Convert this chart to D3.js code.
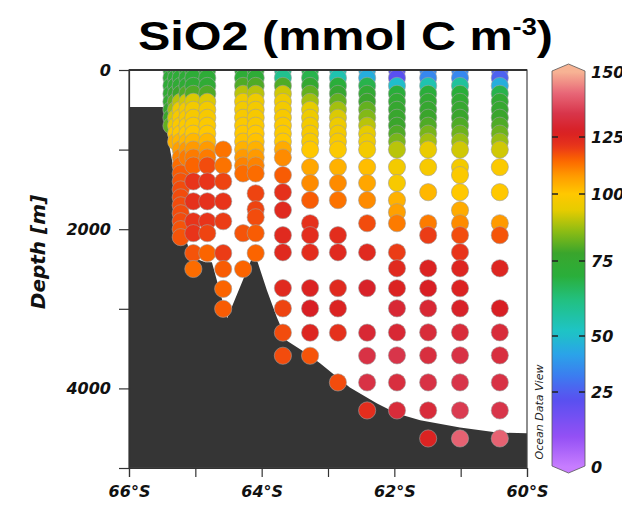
<!DOCTYPE html>
<html><head><meta charset="utf-8">
<script src="https://cdn.jsdelivr.net/npm/d3@7"></script>
<style>body{margin:0;background:#fff;} svg{display:block}</style>
</head><body>
<svg id="c" width="622" height="507"></svg>
<script>
// ---------- data ----------
const latTicks = [-66,-65,-64,-63,-62,-61,-60];
const latLabels = {"-66":"66°S","-64":"64°S","-62":"62°S","-60":"60°S"};
const depthTicks = [0,1000,2000,3000,4000,5000];
const depthLabels = {"0":"0","2000":"2000","4000":"4000"};
const colorTicks = [0,25,50,75,100,125,150];
const colorTickPos = [467,392,336,261,194,137,72];

const bathyLat = [-66,-65.49,-65.44,-65.38,-65.31,-65.23,-65.16,-65.06,-64.85,-64.75,-64.52,-64.13,-64.06,-63.92,-63.77,-63.62,-63.32,-63.12,-62.67,-62.26,-61.96,-61.61,-61.01,-60.45,-60];
const bathyDepth = [465,465,690,1005,1320,1700,2075,2350,2415,2415,3120,2330,2415,2770,3110,3400,3560,3685,3990,4190,4315,4400,4490,4555,4565];

const stationLat = [-65.36,-65.29,-65.22,-65.12,-65.03,-64.82,-64.58,-64.28,-64.09,-63.68,-63.27,-62.85,-62.41,-61.96,-61.49,-61.01,-60.41];
const stationDepth = [
  [0,100,200,300,400,500,600,700],
  [0,100,200,300,400,500,600,700,800,900],
  [0,100,200,300,400,500,600,700,800,900,1000,1100,1200,1300,1400,1500,1600,1700,1800,1900,2000,2100],
  [0,100,200,300,400,500,600,700,800,900,1000,1100],
  [0,100,200,300,400,500,600,700,800,900,1000,1100,1200,1400,1650,1900,2050,2300,2500],
  [0,100,200,300,400,500,600,700,800,900,1000,1100,1200,1400,1650,1900,2050,2300],
  [1000,1200,1400,1650,1900,2300,2500,2750,3000],
  [0,100,200,300,400,500,600,700,800,900,1000,1100,1200,1300,2050,2500],
  [0,100,200,300,400,500,600,700,800,900,1000,1100,1200,1300,1550,1750,1850,2050,2300],
  [0,100,200,300,400,500,600,700,800,900,1000,1100,1320,1535,1760,2075,2290,2740,2995,3300,3590],
  [0,100,200,300,400,500,600,700,800,900,1000,1220,1420,1635,1925,2075,2290,2740,2995,3300,3590],
  [0,100,200,300,400,500,600,700,800,900,1000,1220,1420,1635,2075,2290,2740,2995,3300,3925],
  [0,100,200,300,400,500,600,700,800,900,1000,1220,1420,1635,1925,2290,2740,3300,3590,3925,4277],
  [0,100,200,300,400,500,600,700,800,900,1000,1220,1420,1635,1786,1925,2290,2491,2742,2994,3296,3585,3925,4277],
  [0,100,200,300,400,500,600,700,800,900,1000,1220,1535,1925,2075,2491,2742,2994,3296,3585,3925,4277,4629],
  [0,100,200,300,400,500,600,700,800,900,1000,1220,1320,1535,1761,1925,2075,2289,2491,2742,2994,3296,3585,3925,4277,4629],
  [0,100,200,300,400,500,600,700,800,900,1000,1220,1535,1925,2075,2491,2994,3296,3585,3925,4277,4629]
];
const stationValue = [
  [72,72,72,73,74,76,78,82],
  [72,72,73,76,82,88,93,96,100,104],
  [72,72,73,78,90,96,98,99,100,103,107,111,114,116,117,118,118,118,118,118,117,117],
  [72,72,73,80,92,97,98,99,100,103,108,112],
  [72,72,73,80,93,97,98,99,100,103,108,112,115,121,122,121,121,117,114],
  [72,72,73,80,93,97,98,99,100,103,108,112,118,121,122,121,119,115],
  [113,113,119,121,120,120,116,115,116],
  [72,72,80,90,96,97,98,99,100,101,104,108,111,114,117,115],
  [72,72,80,90,96,97,98,99,100,101,104,108,111,114,119,119,118,116,115],
  [60,60,80,92,96,97,98,99,99,100,105,110,116,122,124,124,124,124,119,118,118],
  [68,68,75,82,88,94,96,97,98,98,100,106,110,116,122,123,123,126,127,125,117],
  [55,55,70,76,82,88,93,96,97,98,99,104,110,113,123,124,124,126,122,118],
  [45,45,68,74,78,82,85,90,94,96,97,102,106,110,118,124,128,130,133,133,123],
  [22,22,50,70,74,76,77,78,80,84,90,97,98,104,107,112,120,124,126,130,130,134,132,131],
  [35,35,55,70,74,76,78,80,84,88,95,98,103,112,120,126,127,130,131,132,133,131,126],
  [35,35,58,70,74,76,78,80,83,87,92,97,99,100,105,110,118,121,125,126,128,131,133,134,135,141],
  [26,26,45,68,74,76,78,80,83,87,92,99,100,108,117,125,127,131,132,133,134,141]
];

// ODV-like palette
const palVals = [0,10,22,32,42,52,62,70,78,86,94,100,108,115,121,127,134,142,150];
const palCols = ["#c77dff","#9450f5","#5a50f0","#3c7cf0","#2aa4e8","#1ec4c4","#22c080","#2aae3a","#3aa52c","#8cbc14","#e6cc00","#ffc800","#ff9a00","#fb6400","#e8341a","#d81f24","#d8354a","#e86878","#f7b394"];

// ---------- drawing ----------
const svg = d3.select("#c");
const L=129,R=527,T=70,B=468;
const x = d3.scaleLinear().domain([-66,-60]).range([L,R]);
const y = d3.scaleLinear().domain([0,5000]).range([T,B]);
const color = d3.scaleLinear().domain(palVals).range(palCols).interpolate(d3.interpolateRgb).clamp(true);
const cb = d3.scaleLinear().domain(colorTicks).range(colorTickPos);

const tickFont = "'DejaVu Sans', Verdana, sans-serif";

// clip
svg.append("defs").append("clipPath").attr("id","pc").append("rect")
  .attr("x",L).attr("y",T).attr("width",R-L).attr("height",B-T);

svg.append("rect").attr("x",L).attr("y",T).attr("width",R-L).attr("height",B-T).attr("fill","#fff");

const plot = svg.append("g").attr("clip-path","url(#pc)");
// bathymetry
const bathy = bathyLat.map((d,i)=>({lat:d,dep:bathyDepth[i]}));
plot.append("path").datum(bathy)
  .attr("d", d3.area().x(d=>x(d.lat)).y0(y(5000)+2).y1(d=>y(d.dep)))
  .attr("fill","#353535");

// dots
const pts = [];
stationLat.forEach((lat,i)=>{
  stationDepth[i].forEach((dep,j)=>pts.push({lat, dep, v: stationValue[i][j]}));
});
plot.selectAll("circle.s").data(pts).join("circle").attr("class","s")
  .attr("cx",d=>x(d.lat)).attr("cy",d=>y(d.dep)).attr("r",8.6)
  .attr("fill",d=>color(d.v)).attr("stroke","#a0a0a0").attr("stroke-width",0.6);

// frame
svg.append("rect").attr("x",L).attr("y",T).attr("width",R-L).attr("height",B-T)
  .attr("fill","none").attr("stroke","#444").attr("stroke-width",1.2);
svg.append("line").attr("x1",L).attr("x2",R).attr("y1",T).attr("y2",T).attr("stroke","#333").attr("stroke-width",2);

// axes
const xAxis = d3.axisBottom(x).tickValues(latTicks).tickSize(9).tickPadding(9)
  .tickFormat(d=>latLabels[String(d)]||"");
const gx = svg.append("g").attr("transform",`translate(0,${B})`).call(xAxis);
const yAxis = d3.axisLeft(y).tickValues(depthTicks).tickSize(10).tickPadding(8)
  .tickFormat(d=>depthLabels[String(d)]||"");
const gy = svg.append("g").attr("transform",`translate(${L},0)`).call(yAxis);
[gx,gy].forEach(g=>{
  g.select(".domain").attr("stroke","#333").attr("stroke-width",1.2);
  g.selectAll(".tick line").attr("stroke","#333").attr("stroke-width",1.2);
  g.selectAll("text").attr("font-family",tickFont).attr("font-weight","bold")
   .attr("font-style","italic").attr("font-size",16).attr("fill","#111");
});

// y-axis label
svg.append("text").attr("transform","translate(45,252) rotate(-90)")
  .attr("text-anchor","middle").attr("font-family",tickFont).attr("font-weight","bold")
  .attr("font-style","italic").attr("font-size",20).attr("fill","#111").text("Depth [m]");

// Ocean Data View
svg.append("text").attr("transform","translate(543,412) rotate(-90)")
  .attr("text-anchor","middle").attr("font-family",tickFont)
  .attr("font-style","italic").attr("font-size",11).attr("fill","#222").text("Ocean Data View");

// colorbar
const cbx0=552, cbx1=585, cbTop=cb(150), cbBot=cb(0);
const grad = svg.select("defs").append("linearGradient").attr("id","cbg")
  .attr("gradientUnits","userSpaceOnUse").attr("x1",0).attr("x2",0).attr("y1",cbBot).attr("y2",cbTop-2);
d3.range(0,151,2).forEach(v=>{
  grad.append("stop").attr("offset",((cbBot-cb(v))/(cbBot-cbTop+2))).attr("stop-color",color(v));
});
const cm=(cbx0+cbx1)/2;
const cbPath = `M${cbx0},${cbTop-1} L${cm},${cbTop-8} L${cbx1},${cbTop-1} L${cbx1},${cbBot-1} L${cm},${cbBot+6} L${cbx0},${cbBot-1} Z`;
svg.append("path").attr("d",cbPath).attr("fill","url(#cbg)").attr("stroke","#555").attr("stroke-width",0.8);
colorTicks.forEach(v=>{
  if(v>0 && v<150){
    svg.append("line").attr("x1",cbx0).attr("x2",cbx0+6).attr("y1",cb(v)).attr("y2",cb(v)).attr("stroke","#222").attr("stroke-width",1.5);
    svg.append("line").attr("x1",cbx1-6).attr("x2",cbx1).attr("y1",cb(v)).attr("y2",cb(v)).attr("stroke","#222").attr("stroke-width",1.5);
  }
  svg.append("text").attr("x",591).attr("y",cb(v)).attr("dy","0.36em")
    .attr("font-family",tickFont).attr("font-weight","bold").attr("font-style","italic")
    .attr("font-size",16).attr("fill","#111").text(v);
});

// title
const tg = svg.append("g");
const tt = tg.append("text").attr("x",0).attr("y",0)
  .attr("font-family","'Liberation Sans', Arial, Helvetica, sans-serif").attr("font-weight","bold")
  .attr("font-size",41).attr("fill","#000");
tt.append("tspan").text("SiO2 (mmol C m");
tt.append("tspan").attr("font-size",23).attr("dy",-15).text("-3");
tt.append("tspan").attr("dy",15).text(")");
const bb = tt.node().getBBox();
const sx = 415/bb.width;
tg.attr("transform",`translate(${138 - bb.x*sx},50) scale(${sx},1)`);
</script>
</body></html>
